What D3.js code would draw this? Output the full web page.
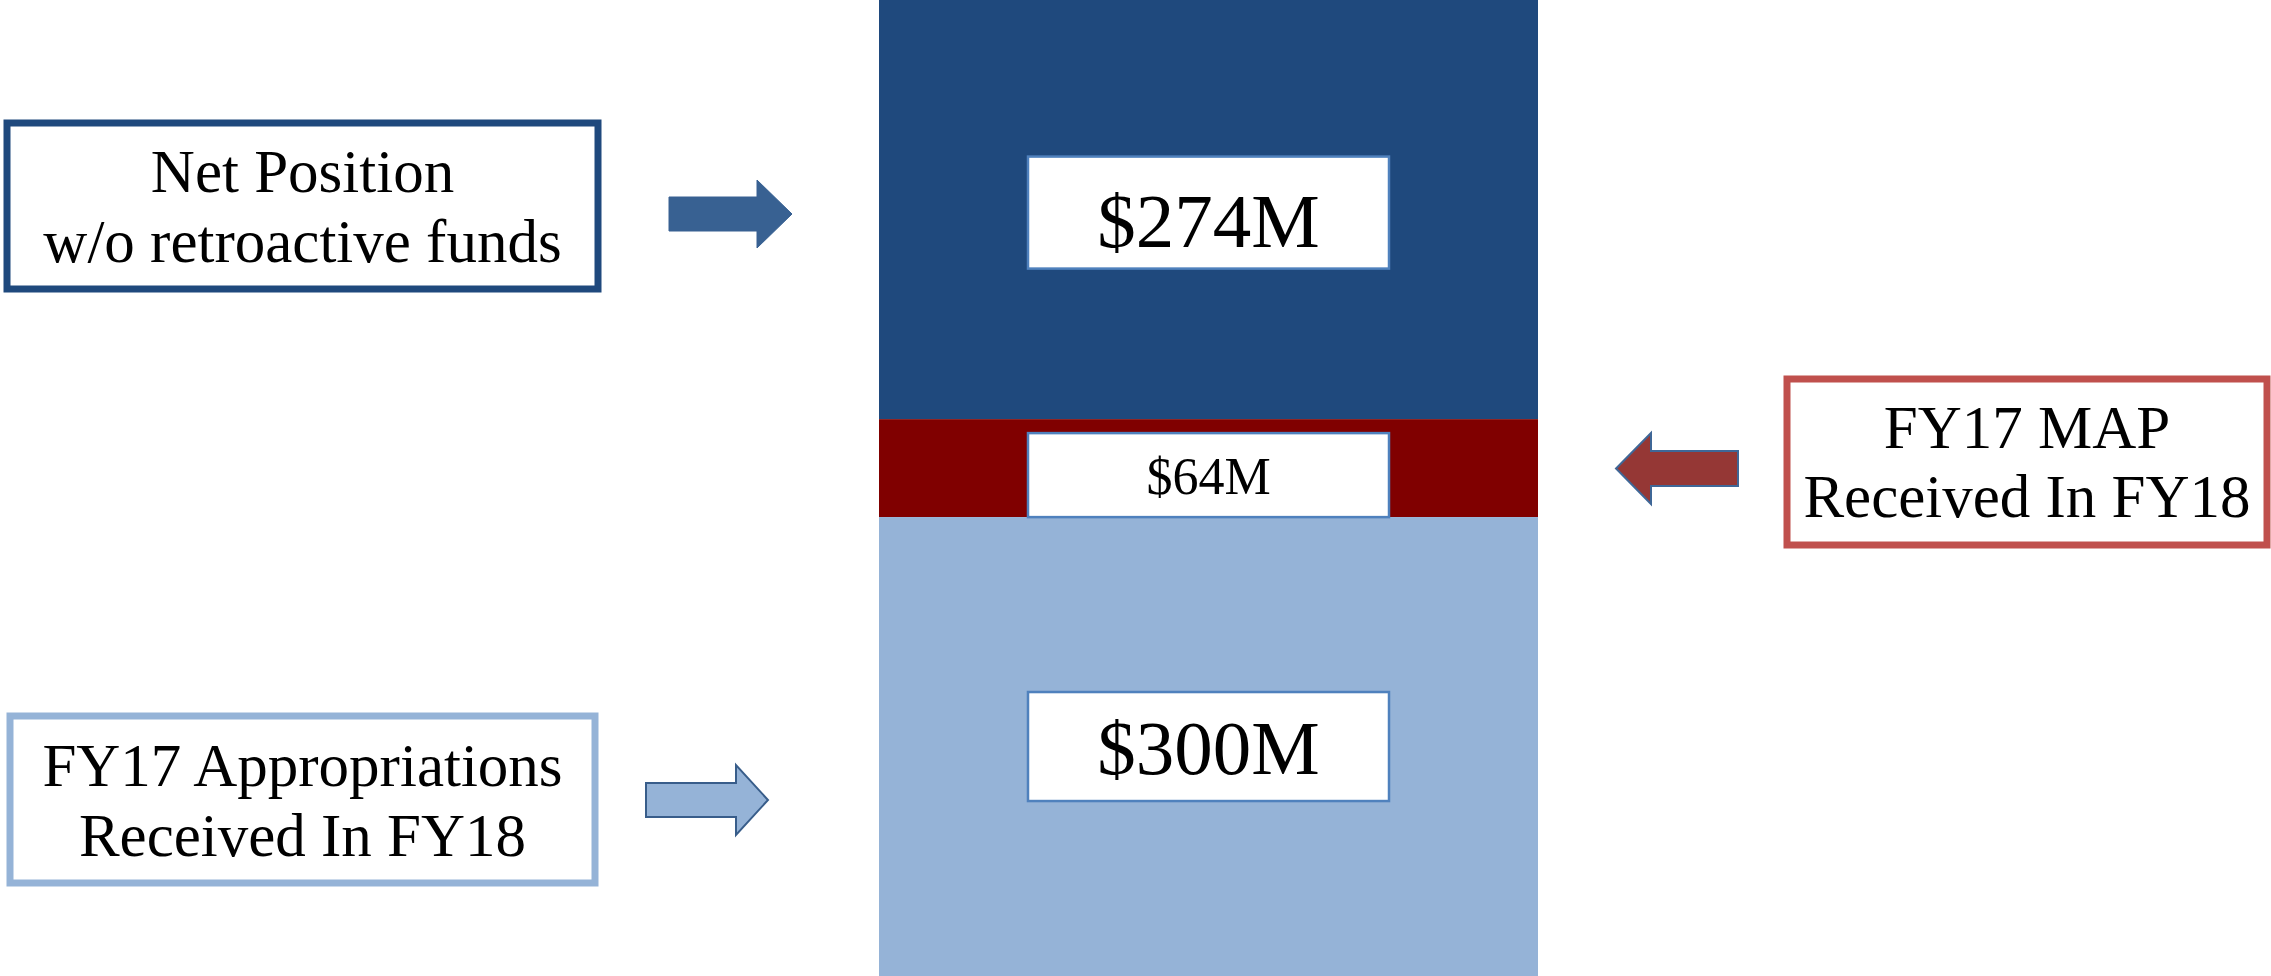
<!DOCTYPE html>
<html>
<head>
<meta charset="utf-8">
<script src="https://cdn.jsdelivr.net/npm/d3@7"></script>
<style>
    body { margin: 0; background: #fff; }
    svg { display: block; }
</style>
</head>
<body>
<svg id="drawing_region"></svg>
<script>
// segments of the stacked column, top to bottom
const segments = ['Net Position', 'FY17 MAP', 'FY17 Appropriations'];
const values = [274, 64, 300];
const value_labels = ['$274M', '$64M', '$300M'];
const segment_colors = ['#1f497d', '#800000', '#95b3d7'];

// callouts beside the column
const callout_lines = [
    ['Net Position', 'w/o retroactive funds'],
    ['FY17 MAP', 'Received In FY18'],
    ['FY17 Appropriations', 'Received In FY18']
];

const config = {
    width: 2271,
    height: 976,
    bar_x: 879,
    bar_w: 659
};

const svg = d3.select('#drawing_region')
    .attr('width', config.width)
    .attr('height', config.height);

const total = d3.sum(values);
const yscale = d3.scaleLinear()
    .domain([0, total])
    .range([0, config.height]);

const data = segments.map((s, i) => {
    const start = d3.sum(values.slice(0, i));
    return { name: s, value: values[i], label: value_labels[i], color: segment_colors[i], y0: start, y1: start + values[i] };
});

// the column
svg.selectAll('rect.seg')
    .data(data)
    .enter()
    .append('rect')
    .attr('class', 'seg')
    .attr('x', config.bar_x)
    .attr('y', d => yscale(d.y0))
    .attr('width', config.bar_w)
    .attr('height', d => yscale(d.y1) - yscale(d.y0))
    .attr('fill', d => d.color);

// white value boxes
const box_w = 361;
const box_specs = [
    { h: 112, font: 77, dy: 3, tdy: 8 },
    { h: 84, font: 52, dy: 7, tdy: 1 },
    { h: 109, font: 77, dy: 0, tdy: 1 }
];
const cx = config.bar_x + config.bar_w / 2;

const vbox = svg.selectAll('g.vbox')
    .data(data)
    .enter()
    .append('g')
    .attr('class', 'vbox')
    .attr('transform', (d, i) => {
        const mid = (yscale(d.y0) + yscale(d.y1)) / 2 + box_specs[i].dy;
        return `translate(${cx}, ${mid})`;
    });

vbox.append('rect')
    .attr('x', -box_w / 2)
    .attr('y', (d, i) => -box_specs[i].h / 2)
    .attr('width', box_w)
    .attr('height', (d, i) => box_specs[i].h)
    .attr('fill', '#fff')
    .attr('stroke', '#4f81bd')
    .attr('stroke-width', 2.5);

vbox.append('text')
    .attr('y', (d, i) => box_specs[i].tdy)
    .attr('text-anchor', 'middle')
    .attr('dominant-baseline', 'central')
    .attr('font-family', '"Liberation Serif", serif')
    .attr('font-size', (d, i) => box_specs[i].font + 'px')
    .attr('fill', '#000')
    .text(d => d.label);

// callout boxes
const callouts = [
    { x: 7, y: 123, w: 591, h: 166, stroke: '#1f497d', base: [192, 262] },
    { x: 1787, y: 379, w: 480, h: 166, stroke: '#c0504d', base: [448, 517] },
    { x: 10, y: 716, w: 585, h: 167, stroke: '#95b3d7', base: [786, 856] }
];

callouts.forEach((c, i) => {
    svg.append('rect')
        .attr('x', c.x)
        .attr('y', c.y)
        .attr('width', c.w)
        .attr('height', c.h)
        .attr('fill', '#fff')
        .attr('stroke', c.stroke)
        .attr('stroke-width', 7);

    callout_lines[i].forEach((line, j) => {
        svg.append('text')
            .attr('x', c.x + c.w / 2)
            .attr('y', c.base[j])
            .attr('text-anchor', 'middle')
            .attr('font-family', '"Liberation Serif", serif')
            .attr('font-size', '61px')
            .attr('fill', '#000')
            .text(line);
    });
});

// block arrows
function block_arrow(x0, x1, xh, y0, y1, s0, s1, dir) {
    const ym = (y0 + y1) / 2;
    if (dir === 'right') {
        return `M${x0},${s0} L${xh},${s0} L${xh},${y0} L${x1},${ym} L${xh},${y1} L${xh},${s1} L${x0},${s1} Z`;
    }
    return `M${x1},${s0} L${xh},${s0} L${xh},${y0} L${x0},${ym} L${xh},${y1} L${xh},${s1} L${x1},${s1} Z`;
}

const arrows = [
    { d: block_arrow(669, 792, 757, 180, 248, 197, 231, 'right'), fill: '#386192', stroke: '#386192', sw: 1 },
    { d: block_arrow(1616, 1738, 1651, 433, 504, 451, 486, 'left'), fill: '#953735', stroke: '#3f6797', sw: 2 },
    { d: block_arrow(646, 768, 736, 765, 835, 783, 817, 'right'), fill: '#95b3d7', stroke: '#385d8a', sw: 2 }
];

svg.selectAll('path.arrow')
    .data(arrows)
    .enter()
    .append('path')
    .attr('class', 'arrow')
    .attr('d', d => d.d)
    .attr('fill', d => d.fill)
    .attr('stroke', d => d.stroke)
    .attr('stroke-width', d => d.sw);
</script>
</body>
</html>
